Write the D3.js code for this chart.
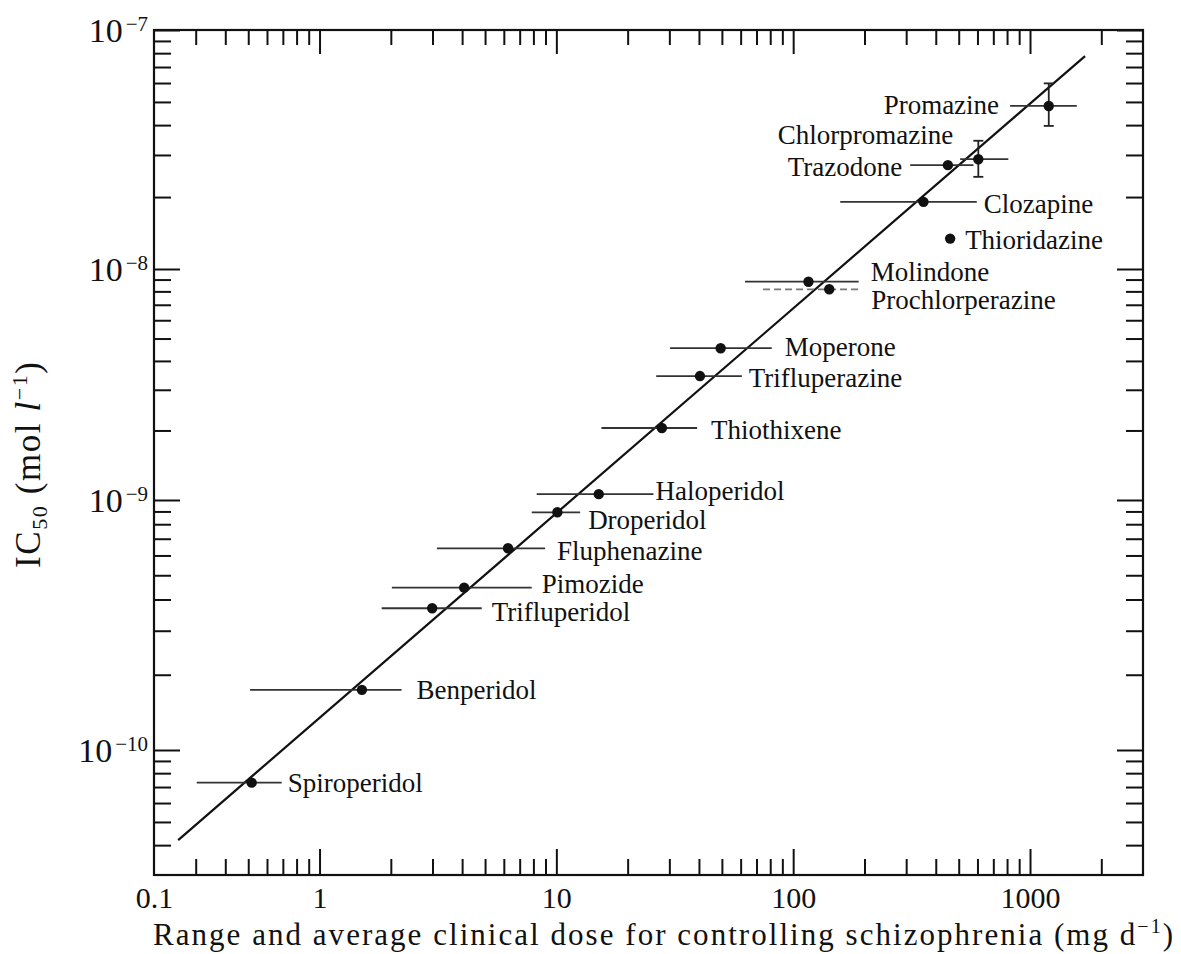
<!DOCTYPE html>
<html>
<head>
<meta charset="utf-8">
<script src="https://cdn.jsdelivr.net/npm/d3@7"></script>
<style>
html,body{margin:0;padding:0;background:#fff;}
svg{display:block;}
text{font-family:"Liberation Serif","Times New Roman",serif;fill:#111;}
</style>
</head>
<body>
<svg id="chart" width="1181" height="954"></svg>
<script>
// ---------- data ----------
const drugs = ["Spiroperidol","Benperidol","Trifluperidol","Pimozide","Fluphenazine","Droperidol",
  "Haloperidol","Thiothixene","Trifluperazine","Moperone","Molindone","Prochlorperazine",
  "Clozapine","Thioridazine","Trazodone","Chlorpromazine","Promazine"];
const doseAvg  = [0.517, 1.51, 2.99, 4.08, 6.25, 10.1, 15.1, 27.9, 40.4, 49.4, 116, 142, 355, 460, 450, 605, 1200];
const doseLow  = [0.303, 0.509, 1.83, 2.02, 3.13, 7.87, 8.26, 15.5, 26.4, 30.2, 62.6, 74.6, 158, null, 312, 507, 824];
const doseHigh = [0.692, 2.22, 4.84, 7.87, 8.96, 12.6, 25.7, 39.3, 60.7, 81.2, 189, 192, 596, null, 577, 810, 1576];
const ic50     = [7.30e-11, 1.74e-10, 3.69e-10, 4.46e-10, 6.41e-10, 8.93e-10, 1.06e-9, 2.05e-9, 3.44e-9,
  4.54e-9, 8.81e-9, 8.17e-9, 1.91e-8, 1.34e-8, 2.72e-8, 2.88e-8, 4.81e-8];
const ic50Low  = [null,null,null,null,null,null,null,null,null,null,null,null,null,null,null, 2.43e-8, 3.97e-8];
const ic50High = [null,null,null,null,null,null,null,null,null,null,null,null,null,null,null, 3.44e-8, 5.98e-8];
const fitDose  = [0.253, 1708];
const fitIC50  = [4.20e-11, 7.78e-8];

const xTickValues = [0.2, 1, 10, 100, 1000];
const xTickLabels = ["0.1", "1", "10", "100", "1000"];
const yTickValues = [1e-7, 1e-8, 1e-9, 1e-10];
const yTickExponents = ["\u22127", "\u22128", "\u22129", "\u221210"];

// ---------- layout (label placement: side, gap, vertical shift) ----------
const labelLayout = {
  Spiroperidol: ["right", 6, 0], Benperidol: ["right", 15, 0], Trifluperidol: ["right", 10, 4],
  Pimozide: ["right", 10, -4], Fluphenazine: ["right", 12, 3], Droperidol: ["right", 8, 8],
  Haloperidol: ["right", 2, -3], Thiothixene: ["right", 14, 2], Trifluperazine: ["right", 7, 2],
  Moperone: ["right", 13, -1], Molindone: ["right", 12, -10], Prochlorperazine: ["right", 11, 11],
  Clozapine: ["right", 7, 2], Thioridazine: ["right", 15, 1], Trazodone: ["left", 8, 2],
  Chlorpromazine: ["left", 7, -24], Promazine: ["left", 11, -1]
};

const svg = d3.select("#chart");
const L = 154, R = 1143, T = 30, B = 875;

const x = d3.scaleLog().domain([0.2, 3000]).range([L, R]);
// piecewise log scale to follow the printed axis decades
const y = d3.scaleLog().domain([1e-7, 1e-8, 1e-9, 1e-10, 3e-11]).range([T, 269, 500, 750, B]);

const isPow10 = v => Math.abs(Math.log10(v) - Math.round(Math.log10(v))) < 1e-9;
const minorX = x.ticks().filter(v => !isPow10(v) && v > 0.2001 && v < 2999);
const majorX = x.ticks().filter(v => isPow10(v));
const minorY = y.ticks().filter(v => !isPow10(v) && v > 3.0001e-11);
const majorY = y.ticks().filter(v => isPow10(v));

function styleAxis(g) {
  g.select(".domain").remove();
  g.selectAll(".tick line").attr("stroke", "#111").attr("stroke-width", 2);
}

// bottom
svg.append("g").attr("transform", `translate(0,${B})`)
  .call(d3.axisBottom(x).tickValues(minorX).tickSizeInner(-16).tickSizeOuter(0).tickFormat(""))
  .call(styleAxis);
svg.append("g").attr("transform", `translate(0,${B})`)
  .call(d3.axisBottom(x).tickValues(majorX).tickSizeInner(-26).tickSizeOuter(0).tickFormat(""))
  .call(styleAxis);
const xl = svg.append("g").attr("transform", `translate(0,${B})`)
  .call(d3.axisBottom(x).tickValues(xTickValues).tickSize(0).tickPadding(12)
    .tickFormat((d, i) => xTickLabels[i]));
xl.select(".domain").remove();
xl.selectAll("text").attr("fill", "#111").style("font-size", "30px")
  .style("font-family", "'Liberation Serif','Times New Roman',serif");

// top
svg.append("g").attr("transform", `translate(0,${T})`)
  .call(d3.axisTop(x).tickValues(minorX).tickSizeInner(-15).tickSizeOuter(0).tickFormat(""))
  .call(styleAxis);
svg.append("g").attr("transform", `translate(0,${T})`)
  .call(d3.axisTop(x).tickValues(majorX).tickSizeInner(-24).tickSizeOuter(0).tickFormat(""))
  .call(styleAxis);

// left
svg.append("g").attr("transform", `translate(${L},0)`)
  .call(d3.axisLeft(y).tickValues(minorY).tickSizeInner(-17).tickSizeOuter(0).tickFormat(""))
  .call(styleAxis);
svg.append("g").attr("transform", `translate(${L},0)`)
  .call(d3.axisLeft(y).tickValues(majorY).tickSizeInner(-26).tickSizeOuter(0).tickFormat(""))
  .call(styleAxis);

// right
svg.append("g").attr("transform", `translate(${R},0)`)
  .call(d3.axisRight(y).tickValues(minorY).tickSizeInner(-17).tickSizeOuter(0).tickFormat(""))
  .call(styleAxis);
svg.append("g").attr("transform", `translate(${R},0)`)
  .call(d3.axisRight(y).tickValues(majorY).tickSizeInner(-26).tickSizeOuter(0).tickFormat(""))
  .call(styleAxis);

// frame
svg.append("rect").attr("x", L).attr("y", T).attr("width", R - L).attr("height", B - T)
  .attr("fill", "none").attr("stroke", "#111").attr("stroke-width", 2.2);

// y tick labels 10^-n
const ylab = svg.append("g");
yTickValues.forEach((v, i) => {
  const t = ylab.append("text").attr("x", L - 6).attr("y", y(v) + 12)
    .attr("text-anchor", "end").style("font-size", "34px");
  t.append("tspan").text("10");
  t.append("tspan").attr("dx", 3).attr("dy", -11).style("font-size", "21px").text(yTickExponents[i]);
});

// axis titles
const xt = svg.append("text").attr("x", 153).attr("y", 945).style("font-size", "31px")
  .attr("textLength", 1020).attr("lengthAdjust", "spacing");
xt.append("tspan").text("Range and average clinical dose for controlling schizophrenia (mg d");
xt.append("tspan").attr("dy", -12).style("font-size", "20px").text("\u22121");
xt.append("tspan").attr("dy", 12).text(")");

const yt = svg.append("text").attr("transform", "translate(40,465) rotate(-90)")
  .attr("text-anchor", "middle").style("font-size", "35px")
  .attr("textLength", 206).attr("lengthAdjust", "spacing");
yt.append("tspan").text("IC");
yt.append("tspan").attr("dy", 7).style("font-size", "22px").text("50");
yt.append("tspan").attr("dy", -7).text(" (mol ");
yt.append("tspan").style("font-style", "italic").text("l");
yt.append("tspan").attr("dy", -13).style("font-size", "22px").text("\u22121");
yt.append("tspan").attr("dy", 13).text(")");

// regression line
const fitPts = fitDose.map((d, i) => [d, fitIC50[i]]);
svg.append("path").datum(fitPts)
  .attr("d", d3.line().x(d => x(d[0])).y(d => y(d[1])))
  .attr("fill", "none").attr("stroke", "#111").attr("stroke-width", 2.2);

const rows = drugs.map((name, i) => ({
  name, avg: doseAvg[i], lo: doseLow[i], hi: doseHigh[i],
  ic: ic50[i], icLo: ic50Low[i], icHi: ic50High[i]
}));

// horizontal range bars
svg.append("g").selectAll("line").data(rows.filter(r => r.lo != null)).join("line")
  .attr("x1", r => x(r.lo)).attr("x2", r => x(r.hi))
  .attr("y1", r => y(r.ic)).attr("y2", r => y(r.ic))
  .attr("stroke", r => r.name === "Prochlorperazine" ? "#777" : "#333")
  .attr("stroke-width", 1.8)
  .attr("stroke-dasharray", r => r.name === "Prochlorperazine" ? "7,4" : null);

// vertical error bars with caps
const vb = svg.append("g").selectAll("g").data(rows.filter(r => r.icLo != null)).join("g")
  .attr("stroke", "#222").attr("stroke-width", 1.8);
vb.append("line").attr("x1", r => x(r.avg)).attr("x2", r => x(r.avg))
  .attr("y1", r => y(r.icHi)).attr("y2", r => y(r.icLo));
vb.append("line").attr("x1", r => x(r.avg) - 5).attr("x2", r => x(r.avg) + 5)
  .attr("y1", r => y(r.icHi)).attr("y2", r => y(r.icHi));
vb.append("line").attr("x1", r => x(r.avg) - 5).attr("x2", r => x(r.avg) + 5)
  .attr("y1", r => y(r.icLo)).attr("y2", r => y(r.icLo));

// points
svg.append("g").selectAll("circle").data(rows).join("circle")
  .attr("cx", r => x(r.avg)).attr("cy", r => y(r.ic)).attr("r", 5.2).attr("fill", "#111");

// labels
svg.append("g").selectAll("text").data(rows).join("text")
  .attr("x", r => {
    const [side, gap] = labelLayout[r.name];
    if (side === "left") return x(r.lo != null ? r.lo : r.avg) - gap;
    return x(r.hi != null ? r.hi : r.avg) + gap;
  })
  .attr("y", r => y(r.ic) + labelLayout[r.name][2])
  .attr("dy", "0.33em")
  .attr("text-anchor", r => labelLayout[r.name][0] === "left" ? "end" : "start")
  .style("font-size", "27px")
  .text(r => r.name);
</script>
</body>
</html>
